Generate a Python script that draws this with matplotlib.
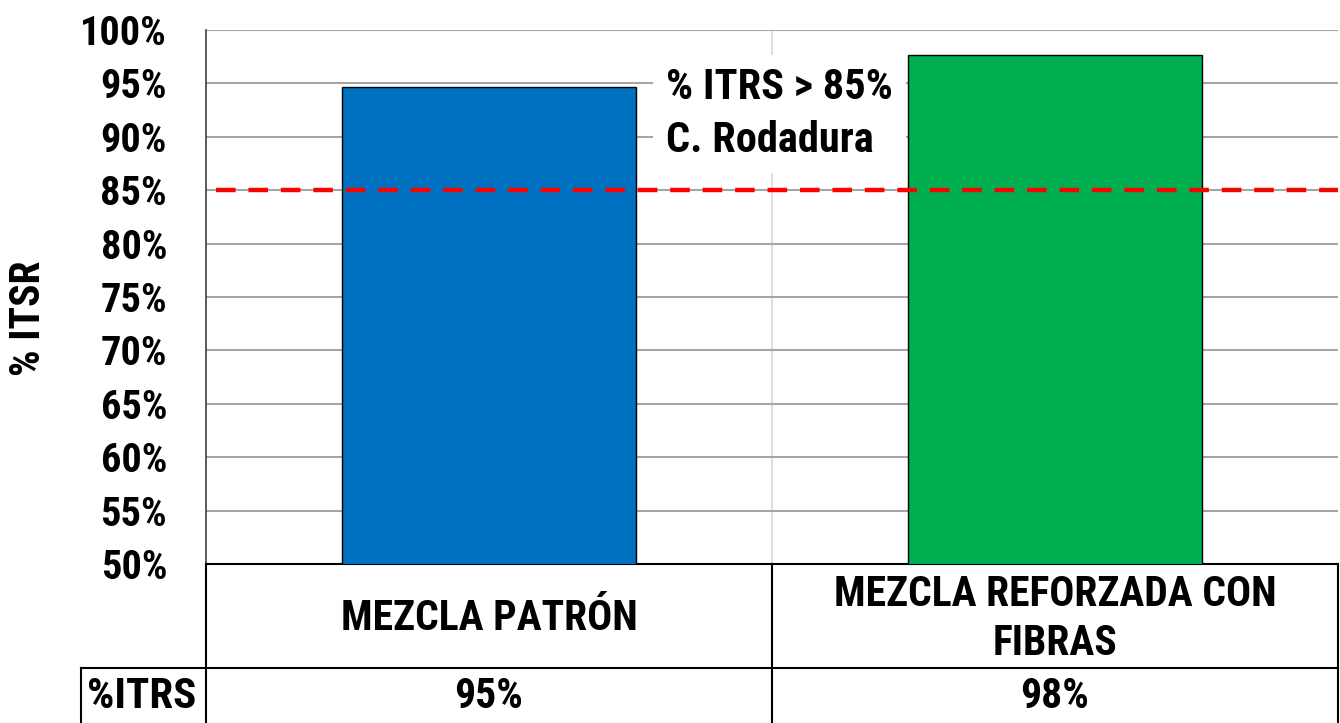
import matplotlib
matplotlib.use("Agg")
import matplotlib.pyplot as plt
from matplotlib.lines import Line2D
from matplotlib.transforms import blended_transform_factory
from matplotlib import font_manager

# datos
categorias = ["MEZCLA PATRÓN", "MEZCLA REFORZADA CON\nFIBRAS"]
itsr = [94.7, 97.7]
tabla_valores = ["95%", "98%"]
limite = 85
colores = ["#0070C0", "#00B050"]
yticks = list(range(50, 101, 5))

# fuente estrecha tipo Arial Narrow
nombres = {f.name for f in font_manager.fontManager.ttflist}
fuente = "Liberation Sans"
for n in ["Liberation Sans Narrow", "Arial Narrow", "Roboto Condensed", "PT Sans Narrow", "Archivo Narrow"]:
    if n in nombres:
        fuente = n
        break
plt.rcParams["font.family"] = [fuente, "DejaVu Sans"]
plt.rcParams["font.weight"] = "bold"

W, H = 1340, 723
fig = plt.figure(figsize=(W / 100, H / 100), dpi=100)
ax = fig.add_axes([206 / W, (H - 564) / H, 1132 / W, 534 / H])

x = list(range(len(categorias)))
ax.bar(x, itsr, width=0.52, color=colores, edgecolor="black", linewidth=1, zorder=3)
ax.axhline(limite, xmin=0.009, xmax=1, color="#FF0000", linewidth=3.2,
           dashes=(4.4, 2.9), zorder=4)

ax.set_xlim(-0.5, 1.5)
ax.set_ylim(50, 100)
ax.set_yticks(yticks)
ax.set_yticklabels([f"{v}%" for v in yticks], fontsize=29, fontweight="bold")
ax.tick_params(axis="y", length=0, pad=28)
ax.set_xticks([])
ax.yaxis.grid(True, color="#A6A6A6", linewidth=1.5, zorder=0)
ax.axvline(0.5, color="#D9D9D9", linewidth=1.2, zorder=0)
for s in ["top", "right"]:
    ax.spines[s].set_visible(False)
ax.spines["left"].set_color("#404040")
ax.spines["left"].set_linewidth(1.2)
ax.spines["bottom"].set_color("black")
ax.spines["bottom"].set_linewidth(1.5)

ax.set_ylabel("% ITSR", fontsize=30, fontweight="bold")
ax.yaxis.set_label_coords(-0.139, 0.46)

ax.text(0.313, 96.5, "% ITRS > 85%\nC. Rodadura", fontsize=30.5, fontweight="bold",
        va="top", ha="left", linespacing=1.35, zorder=5,
        bbox=dict(boxstyle="square,pad=0.3", facecolor="white", edgecolor="none"))

# tabla de datos
tr = blended_transform_factory(ax.transData, fig.transFigure)
y_top = (H - 564) / H
y_mid = (H - 668) / H
x_left = 81 / W
lw = 1.5
for xv in [-0.5, 0.5, 1.5]:
    fig.add_artist(Line2D([xv, xv], [0, y_top], transform=tr, color="black", linewidth=lw))
fig.add_artist(Line2D([x_left, 1338 / W], [y_mid, y_mid], transform=fig.transFigure,
                      color="black", linewidth=lw))
fig.add_artist(Line2D([x_left, x_left], [0, y_mid], transform=fig.transFigure,
                      color="black", linewidth=lw))

for xi, cat, val in zip(x, categorias, tabla_valores):
    fig.text(xi, (H - 619) / H, cat, transform=tr, ha="center", va="center",
             fontsize=30, fontweight="bold", linespacing=1.22)
    fig.text(xi, (H - 697) / H, val, transform=tr, ha="center", va="center",
             fontsize=30, fontweight="bold")
fig.text(142 / W, (H - 697) / H, "%ITRS", ha="center", va="center",
         fontsize=31, fontweight="bold")

fig.savefig("out.png", dpi=100)
